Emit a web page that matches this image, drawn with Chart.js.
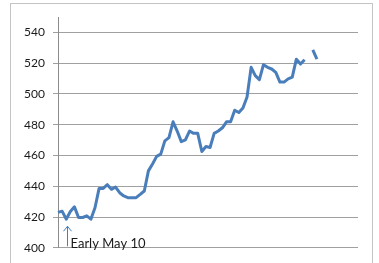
<!DOCTYPE html>
<html>
<head>
<meta charset="utf-8">
<script src="https://cdn.jsdelivr.net/npm/chart.js@4/dist/chart.umd.min.js"></script>
<style>
html,body{margin:0;padding:0;background:#fff;}
#wrap{position:relative;width:379px;height:263px;}
</style>
</head>
<body>
<div id="wrap"><canvas id="c" width="379" height="263"></canvas></div>
<script>
// ---- data ----
const days = Array.from({length: 74}, (_, i) => String(i + 1));
const values = [
  423, 423.8, 418.6, 423.6, 426.6, 419.7, 419.7, 420.8, 418.6, 426,
  438.6, 438.6, 441, 438, 439.5, 435.8, 433.7, 432.6, 432.6, 432.6,
  434.7, 436.9, 450, 454.5, 459.4, 460.9, 469.5, 471.6, 481.9, 475.9,
  469, 470.1, 475.9, 474.4, 474.4, 462.6, 465.8, 465.2, 474.4, 475.9,
  478, 481.9, 481.9, 489.4, 487.9, 490.9, 498, 517.3, 511.9, 509.3,
  519, 517.3, 516.2, 514, 507.7, 507.7, 509.8, 510.9, 522.6, 519.4,
  522.2, null, 528.6, 522.6
];
const yTickValues = [400, 420, 440, 460, 480, 500, 520, 540];
const annotationText = "Early May 10";
const annotationIndex = 2;

const seriesData = days.map((d, i) => (i < values.length ? values[i] : null));

const frame = {
  id: 'frame',
  beforeDraw(chart) {
    const ctx = chart.ctx;
    ctx.save();
    ctx.fillStyle = '#fff';
    ctx.fillRect(0, 0, chart.width, chart.height);
    ctx.strokeStyle = '#c4c4c4';
    ctx.lineWidth = 1;
    ctx.strokeRect(10.5, 3.5, 362, 300);
    ctx.restore();
  }
};

const note = {
  id: 'note',
  afterDatasetsDraw(chart) {
    const ctx = chart.ctx;
    const xs = chart.scales.x, ys = chart.scales.y;
    const x = Math.round(xs.getPixelForValue(annotationIndex)) + 1.5;
    const yTip = ys.getPixelForValue(414);
    const yBot = ys.getPixelForValue(401);
    ctx.save();
    ctx.strokeStyle = '#4a7ebb';
    ctx.lineWidth = 1;
    ctx.beginPath();
    ctx.moveTo(x, yBot);
    ctx.lineTo(x, yTip);
    ctx.moveTo(x - 4, yTip + 5);
    ctx.lineTo(x, yTip);
    ctx.lineTo(x + 4, yTip + 5);
    ctx.stroke();
    ctx.fillStyle = '#1a1a1a';
    ctx.font = '13px Lato, "Open Sans", sans-serif';
    ctx.textBaseline = 'middle';
    ctx.textAlign = 'left';
    ctx.fillText(annotationText, x + 3, ys.getPixelForValue(402.3));
    ctx.restore();
  }
};

new Chart(document.getElementById('c'), {
  type: 'line',
  data: {
    labels: days,
    datasets: [{
      data: seriesData,
      borderColor: '#4a7ebb',
      borderWidth: 3,
      pointRadius: 0,
      tension: 0,
      spanGaps: false,
      borderJoinStyle: 'round',
      borderCapStyle: 'butt',
      fill: false
    }]
  },
  options: {
    responsive: false,
    animation: false,
    devicePixelRatio: 1,
    layout: { padding: { left: 0, top: 17, right: 21, bottom: 12 } },
    plugins: { legend: { display: false }, tooltip: { enabled: false }, title: { display: false } },
    scales: {
      x: {
        display: false,
        offset: false
      },
      y: {
        min: 400,
        max: 550,
        afterBuildTicks: (axis) => { axis.ticks = yTickValues.map(v => ({ value: v })); },
        afterFit: (scale) => { scale.width = 58; },
        ticks: {
          color: '#1a1a1a',
          font: { family: 'Lato, "Open Sans", sans-serif', size: 12 },
          padding: 8
        },
        grid: {
          color: '#a0a0a0',
          lineWidth: 1,
          tickLength: 5,
          tickColor: '#a0a0a0'
        },
        border: { display: true, color: '#8c8c8c', width: 1 }
      }
    }
  },
  plugins: [frame, note]
});
</script>
</body>
</html>
